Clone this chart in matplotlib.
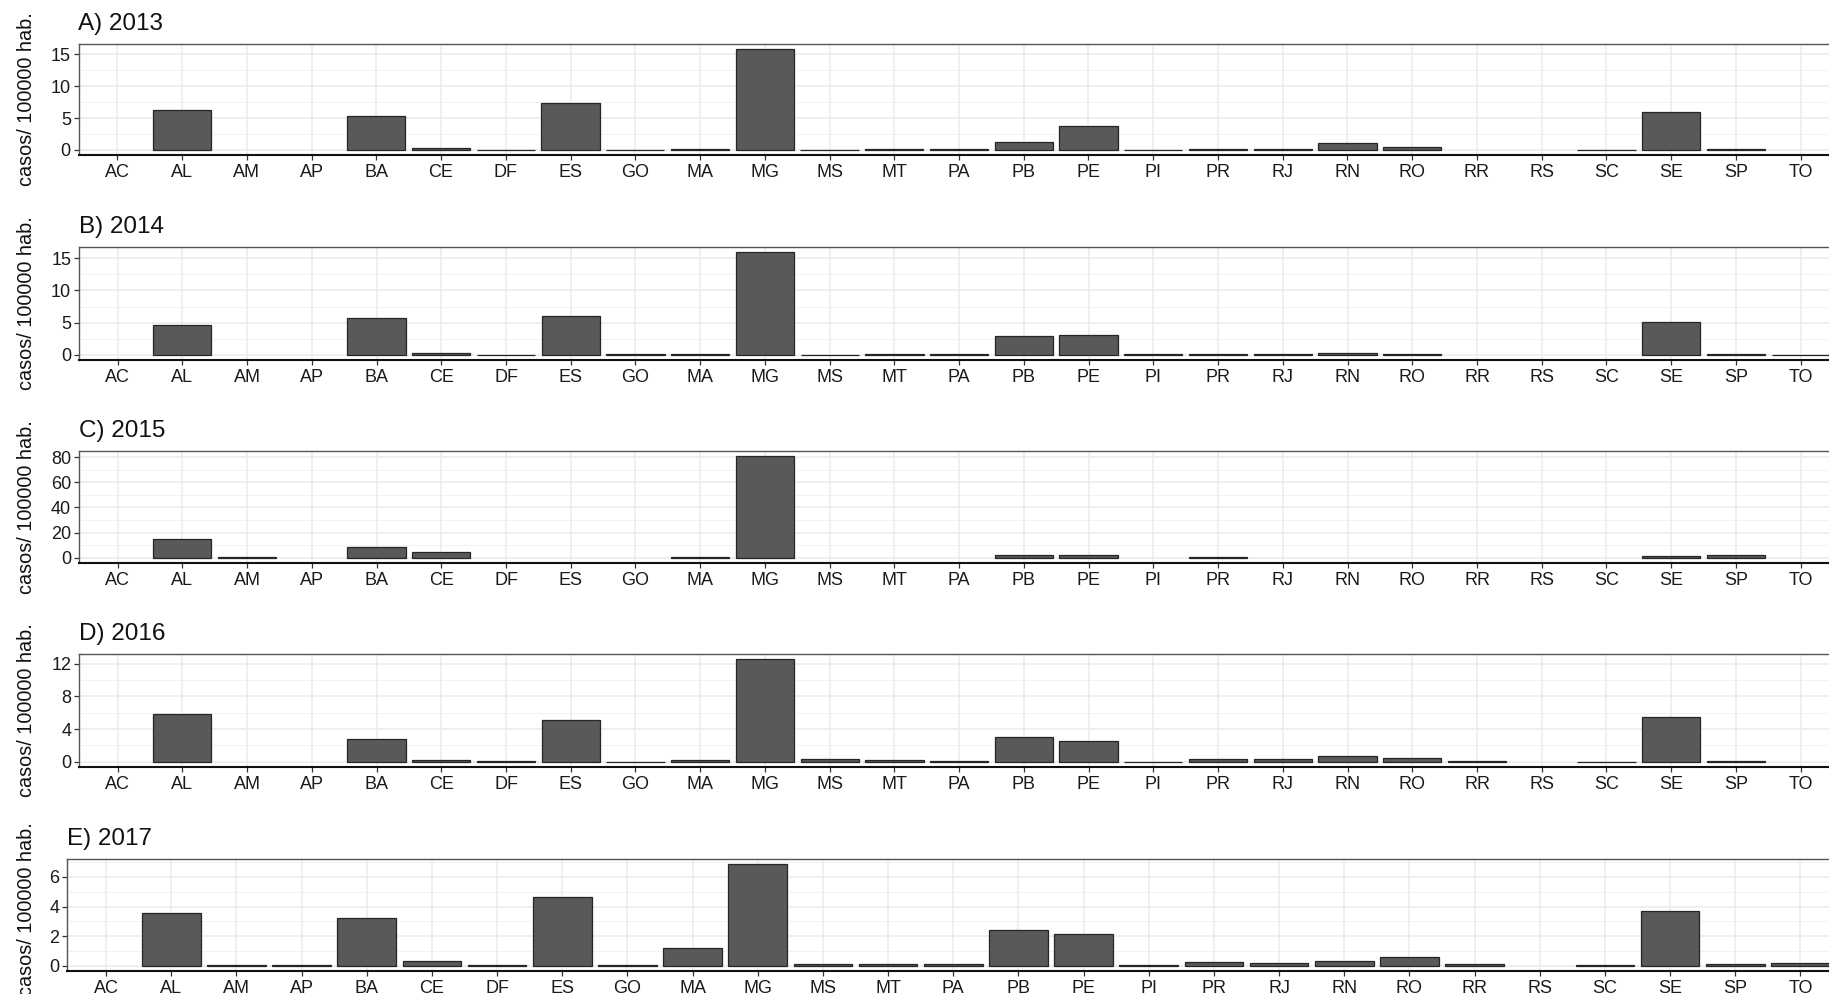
import numpy as np
import matplotlib
matplotlib.use("Agg")
import matplotlib.pyplot as plt
from matplotlib.ticker import MultipleLocator

plt.rcParams['font.family'] = ['Liberation Sans', 'DejaVu Sans']

states = ['AC', 'AL', 'AM', 'AP', 'BA', 'CE', 'DF', 'ES', 'GO', 'MA', 'MG', 'MS', 'MT',
          'PA', 'PB', 'PE', 'PI', 'PR', 'RJ', 'RN', 'RO', 'RR', 'RS', 'SC', 'SE', 'SP', 'TO']
nan = np.nan

titles = ['A) 2013', 'B) 2014', 'C) 2015', 'D) 2016', 'E) 2017']

v2013 = [nan, 6.2, nan, nan, 5.3, 0.25, 0.05, 7.35, 0.05, 0.1, 15.8, 0.05, 0.2,
         0.1, 1.2, 3.7, 0.05, 0.2, 0.2, 1.03, 0.52, nan, nan, 0.05, 5.9, 0.2, nan]
v2014 = [nan, 4.7, nan, nan, 5.8, 0.35, 0.03, 6.1, 0.07, 0.2, 15.9, 0.05, 0.12,
         0.2, 2.92, 3.1, 0.1, 0.2, 0.1, 0.3, 0.1, nan, nan, nan, 5.15, 0.15, 0.05]
v2015 = [nan, 15.1, 0.5, nan, 8.2, 4.2, nan, nan, nan, 0.5, 81.0, nan, nan,
         nan, 2.1, 2.1, nan, 0.4, nan, nan, nan, nan, nan, nan, 1.5, 1.9, nan]
v2016 = [nan, 5.84, nan, nan, 2.84, 0.25, 0.05, 5.15, 0.03, 0.25, 12.5, 0.4, 0.25,
         0.15, 3.04, 2.51, 0.03, 0.32, 0.4, 0.69, 0.53, 0.16, nan, 0.04, 5.43, 0.16, nan]
v2017 = [nan, 3.54, 0.03, 0.08, 3.2, 0.32, 0.08, 4.63, 0.03, 1.2, 6.87, 0.1, 0.1,
         0.1, 2.45, 2.13, 0.05, 0.29, 0.2, 0.36, 0.61, 0.16, nan, 0.07, 3.68, 0.11, 0.18]

series = [v2013, v2014, v2015, v2016, v2017]
ystep = [5, 5, 20, 4, 2]

W, H = 1829, 994
fig = plt.figure(figsize=(W / 100, H / 100), dpi=100)

tops = [44, 247.3, 451, 654.3, 859]
bottoms = [155, 360, 562.7, 767, 971]
lefts = [78.5, 78.8, 78.8, 78.8, 67]
ylab_centers = [99.5, 303.6, 506.8, 710.6, 909]
right = 1839.5

x = np.arange(len(states))
for i in range(5):
    t, b, l = tops[i], bottoms[i], lefts[i]
    ax = fig.add_axes([l / W, 1 - b / H, (right - l) / W, (b - t) / H])
    vals = np.array(series[i], dtype=float)
    ax.bar(x, vals, width=0.9, color='#595959', edgecolor='#262626', linewidth=0.9, zorder=3)
    m = np.nanmax(vals)
    ax.set_xlim(-0.6, len(states) - 0.4)
    ax.set_ylim(-0.05 * m, 1.05 * m)
    ax.set_xticks(x)
    ax.set_xticklabels(states)
    ax.yaxis.set_major_locator(MultipleLocator(ystep[i]))
    ax.yaxis.set_minor_locator(MultipleLocator(ystep[i] / 2))
    ax.grid(which='major', axis='both', color='#EBEBEB', linewidth=1.1, zorder=0)
    ax.grid(which='minor', axis='y', color='#F0F0F0', linewidth=0.6, zorder=0)
    ax.set_axisbelow(True)
    ax.tick_params(axis='both', which='major', length=3.3, width=0.9, color='#333333',
                   labelsize=13, labelcolor='#1a1a1a')
    ax.tick_params(axis='x', pad=3.3)
    ax.tick_params(axis='y', pad=2.2)
    ax.tick_params(which='minor', length=0)
    for s in ['top', 'right', 'left']:
        ax.spines[s].set_color('#555555')
        ax.spines[s].set_linewidth(1.0)
    ax.spines['bottom'].set_color('#111111')
    ax.spines['bottom'].set_linewidth(1.5)
    # title
    fig.text(l / W, 1 - (t - 14) / H, titles[i], fontsize=17.5, ha='left', va='baseline',
             color='#111111')
    # y label
    fig.text(27 / W, 1 - ylab_centers[i] / H, 'casos/ 100000 hab.', rotation=90,
             fontsize=14.3, ha='center', va='center', color='#111111')

fig.savefig('out.png', dpi=100)
